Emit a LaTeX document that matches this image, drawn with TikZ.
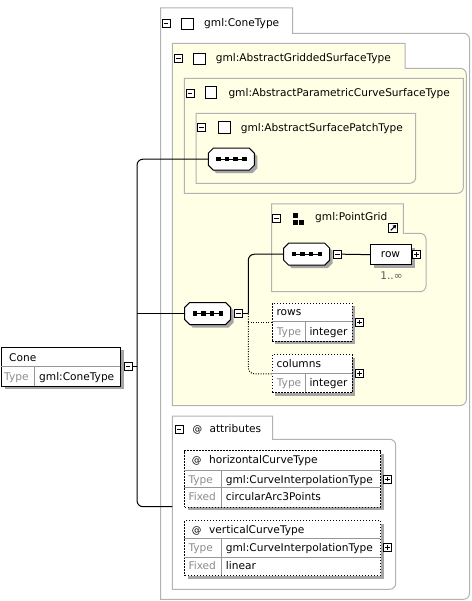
\documentclass[tikz,border=0pt]{standalone}
\usepackage{fontspec}
\setmainfont{DejaVu Sans}
\usetikzlibrary{shadows,arrows.meta}
\definecolor{frameg}{RGB}{178,178,178}
\definecolor{paleyellow}{RGB}{255,255,230}
\definecolor{typeg}{RGB}{140,140,140}
\definecolor{shadowg}{RGB}{165,165,165}
\definecolor{divg}{RGB}{150,150,150}
\definecolor{multg}{RGB}{90,90,90}
% #1 style, #2 L, #3 T, #4 tab right, #5 tab bottom, #6 R, #7 B
\newcommand\tabframe[7]{%
  \path[#1] (#2,#3) -- (#4,#3) -- (#4,#5) -- ({#6-6},#5)
    .. controls ({#6-2.7},#5) and (#6,{#5+2.7}) .. (#6,{#5+6})
    -- (#6,{#7-6})
    .. controls (#6,{#7-2.7}) and ({#6-2.7},#7) .. ({#6-6},#7)
    -- (#2,#7) -- cycle;}
% #1 style, #2 L, #3 T, #4 R, #5 B
\newcommand\fullframe[5]{%
  \path[#1] (#2,#3) -- (#4,#3) -- (#4,{#5-6})
    .. controls (#4,{#5-2.7}) and ({#4-2.7},#5) .. ({#4-6},#5)
    -- (#2,#5) -- cycle;}
% octagon round node #2, style #1, offset #3,#4 (pt)
\newcommand\octpath[4]{%
  \path[#1] ([xshift=-18pt+#3pt,yshift=11pt+#4pt]#2.center)
    -- ([xshift=18pt+#3pt,yshift=11pt+#4pt]#2.center)
    -- ([xshift=23pt+#3pt,yshift=6pt+#4pt]#2.center)
    -- ([xshift=23pt+#3pt,yshift=-6pt+#4pt]#2.center)
    -- ([xshift=18pt+#3pt,yshift=-11pt+#4pt]#2.center)
    -- ([xshift=-18pt+#3pt,yshift=-11pt+#4pt]#2.center)
    -- ([xshift=-23pt+#3pt,yshift=-6pt+#4pt]#2.center)
    -- ([xshift=-23pt+#3pt,yshift=6pt+#4pt]#2.center) -- cycle;}
\newcommand\seqdraw[1]{%
  \octpath{fill=shadowg}{#1}{3}{-3}%
  \octpath{draw=black,fill=white,line width=1pt}{#1}{0}{0}%
  \draw[line width=1pt] ([xshift=-13pt]#1.center) -- ([xshift=13pt]#1.center);%
  \foreach \dx in {-13,-4.33,4.33,13}{%
    \fill ([xshift=\dx pt-2.2pt,yshift=-2.2pt]#1.center) rectangle ([xshift=\dx pt+2.2pt,yshift=2.2pt]#1.center);}%
}
\begin{document}
\begin{tikzpicture}[x=1pt,y=-1pt,
  font=\fontsize{10.6}{12}\selectfont,
  frame/.style={draw=frameg,line width=1pt},
  yframe/.style={frame,fill=paleyellow},
  conn/.style={draw=black,line width=1pt},
  optconn/.style={conn,dash pattern=on 1pt off 1.5pt},
  shad/.style={drop shadow={shadow xshift=3pt,shadow yshift=-3pt,fill=shadowg,opacity=1}},
  elem/.style={draw=black,fill=white,line width=1pt,inner sep=0pt,anchor=north west,shad},
  optelem/.style={elem,dash pattern=on 1.5pt off 1.5pt},
  divline/.style={draw=divg,line width=0.8pt},
  txt/.style={anchor=base west,inner sep=0pt},
  gtxt/.style={txt,text=typeg},
  attxt/.style={txt,font=\fontsize{9.6}{12}\selectfont},
  iconbox/.style={draw=black,fill=white,line width=0.8pt,minimum size=8pt,inner sep=0pt},
  minusicon/.style={iconbox,path picture={\draw[line width=0.8pt]
     ([xshift=-2.3pt]path picture bounding box.center) -- ([xshift=2.3pt]path picture bounding box.center);}},
  plusicon/.style={iconbox,path picture={\draw[line width=0.8pt]
     ([xshift=-2.3pt]path picture bounding box.center) -- ([xshift=2.3pt]path picture bounding box.center)
     ([yshift=-2.3pt]path picture bounding box.center) -- ([yshift=2.3pt]path picture bounding box.center);}},
  sqicon/.style={draw=black,fill=white,line width=0.9pt,minimum size=11.5pt,inner sep=0pt},
  seqnode/.style={rectangle,draw=none,minimum width=46pt,minimum height=22pt,inner sep=0pt}
]
\useasboundingbox (0,0) rectangle (471,601);

% containers
\tabframe{frame}{160.7}{8}{292.7}{33.3}{469.5}{599.3}
\tabframe{yframe}{172.3}{43.3}{405}{68.3}{466.3}{405.5}
\fullframe{yframe}{184.3}{78.3}{463.3}{193.3}
\fullframe{frame}{196}{113.3}{415.7}{183.3}
\tabframe{frame}{271.7}{204}{403.3}{233.3}{426}{291.7}
\tabframe{frame}{172.3}{416}{272.7}{439.3}{395.7}{589.3}

% container titles
\node[minusicon] (m0) at (166,23.5) {};
\node[sqicon] (s0) at (187.5,24) {};
\node[txt] (t0) at (204,27) {gml:ConeType};
\node[minusicon] (m1) at (178.3,58.3) {};
\node[sqicon] (s1) at (199.2,59) {};
\node[txt] (t1) at (215.7,62) {gml:AbstractGriddedSurfaceType};
\node[minusicon] (m2) at (190,93) {};
\node[sqicon] (s2) at (210.8,92.5) {};
\node[txt] (t2) at (228.3,96.8) {gml:AbstractParametricCurveSurfaceType};
\node[minusicon] (m3) at (201.7,127.7) {};
\node[sqicon] (s3) at (224.2,127.5) {};
\node[txt] (t3) at (240.7,131.3) {gml:AbstractSurfacePatchType};
\node[minusicon] (m4) at (276.7,218.5) {};
\fill (292.7,212.8) rectangle (297.7,217.8);
\fill (292.7,220) rectangle (297.7,225);
\fill (299.3,220) rectangle (304.3,225);
\node[txt] (t4) at (315,220.5) {gml:PointGrid};
\node[draw=black,fill=white,line width=0.8pt,minimum size=9pt,inner sep=0pt] (pglink) at (393.3,227.8) {};
\draw[-{Triangle[length=3pt,width=4pt]},line width=1.1pt] ([shift={(-2.6pt,-2.6pt)}]pglink.center) -- ([shift={(2.8pt,2.8pt)}]pglink.center);
\node[minusicon] (m5) at (179,429.3) {};
\node[attxt] (at5) at (192.5,432.8) {@};
\node[txt] (t5) at (209.3,432.8) {attributes};

% Cone element
\node[elem,minimum width=119pt,minimum height=39pt] (cone) at (1,346.7) {};
\draw[divline] (1,366.7) -- (120,366.7);
\draw[divline] (34,366.7) -- (34,385.7);
\node[txt] (conename) at (9,361.7) {Cone};
\node[gtxt] (conetl) at (4,380.3) {Type};
\node[txt] (conetv) at (39,380.3) {gml:ConeType};
\node[minusicon] (coneminus) at (128,366) {};

% sequence nodes
\node[seqnode] (seq1) at (231.3,159.2) {};
\node[seqnode] (seq2) at (207.7,313.5) {};
\node[seqnode] (seq3) at (306.7,254.2) {};
\seqdraw{seq1}
\seqdraw{seq2}
\seqdraw{seq3}
\node[minusicon] (seq2minus) at (238.7,313.5) {};
\node[minusicon] (seq3minus) at (337.7,254.2) {};

% row
\node[elem,minimum width=41pt,minimum height=20.3pt] (row) at (370,244) {};
\node[anchor=base,inner sep=0pt] (rowtext) at (390.5,257.6) {row};
\node[plusicon] (rowplus) at (416.7,254.2) {};
\node[anchor=base,inner sep=0pt,text=multg] (rowmult) at (391.5,279.5) {1..∞};

% rows
\node[optelem,minimum width=80pt,minimum height=38pt] (rows) at (271.7,302.7) {};
\draw[divline] (271.7,321.7) -- (351.7,321.7);
\draw[divline] (305,321.7) -- (305,340.7);
\node[txt] (rowsname) at (276.3,315.3) {rows};
\node[gtxt] (rowstl) at (276.7,335.2) {Type};
\node[txt] (rowstv) at (309.3,335.2) {integer};
\node[plusicon] (rowsplus) at (359.3,322) {};

% columns
\node[optelem,minimum width=80pt,minimum height=38pt] (columns) at (271.7,354.3) {};
\draw[divline] (271.7,373.3) -- (351.7,373.3);
\draw[divline] (305,373.3) -- (305,392.3);
\node[txt] (colsname) at (276.3,367.3) {columns};
\node[gtxt] (colstl) at (276.7,386.8) {Type};
\node[txt] (colstv) at (309.3,386.8) {integer};
\node[plusicon] (colsplus) at (359.3,373.7) {};

% horizontalCurveType
\node[optelem,minimum width=195.7pt,minimum height=56.7pt] (hct) at (184.3,450) {};
\draw[divline] (184.3,470) -- (380,470);
\draw[divline] (184.3,487.7) -- (380,487.7);
\draw[divline] (221,470) -- (221,506.7);
\node[attxt] (hcta) at (191.7,463.5) {@};
\node[txt] (hctn) at (209,463.5) {horizontalCurveType};
\node[gtxt] (hcttl) at (188.3,483) {Type};
\node[txt] (hcttv) at (225.7,483) {gml:CurveInterpolationType};
\node[gtxt] (hctfl) at (188.3,500.5) {Fixed};
\node[txt] (hctfv) at (225.7,500.5) {circularArc3Points};
\node[plusicon] (hctplus) at (387.3,479) {};

% verticalCurveType
\node[optelem,minimum width=195.7pt,minimum height=55pt] (vct) at (184.3,520) {};
\draw[divline] (184.3,538.3) -- (380,538.3);
\draw[divline] (184.3,557.3) -- (380,557.3);
\draw[divline] (221,538.3) -- (221,575);
\node[attxt] (vcta) at (191.7,533) {@};
\node[txt] (vctn) at (209,533) {verticalCurveType};
\node[gtxt] (vcttl) at (188.3,551.5) {Type};
\node[txt] (vcttv) at (225.7,551.5) {gml:CurveInterpolationType};
\node[gtxt] (vctfl) at (188.3,569.8) {Fixed};
\node[txt] (vctfv) at (225.7,569.8) {linear};
\node[plusicon] (vctplus) at (387.3,547.3) {};

% connectors
\coordinate (trunkcone) at (137,366);
\coordinate (attrin) at (172.3,506.7);
\coordinate (branch) at (248.3,313.5);
\draw[conn] (coneminus.east) -- (trunkcone);
\draw[conn,rounded corners=6pt] (seq1.west) -| (trunkcone) |- (attrin);
\draw[conn] (seq2.west -| trunkcone) -- (seq2.west);
\draw[conn] (seq2minus.east) -- (branch);
\draw[conn,rounded corners=6pt] (branch) |- (seq3.west);
\draw[optconn] (branch |- rows.west) -- (rows.west);
\draw[optconn,rounded corners=6pt] (branch) |- (columns.west);
\draw[conn] (seq3minus.east) -- (row.west);
\end{tikzpicture}
\end{document}
